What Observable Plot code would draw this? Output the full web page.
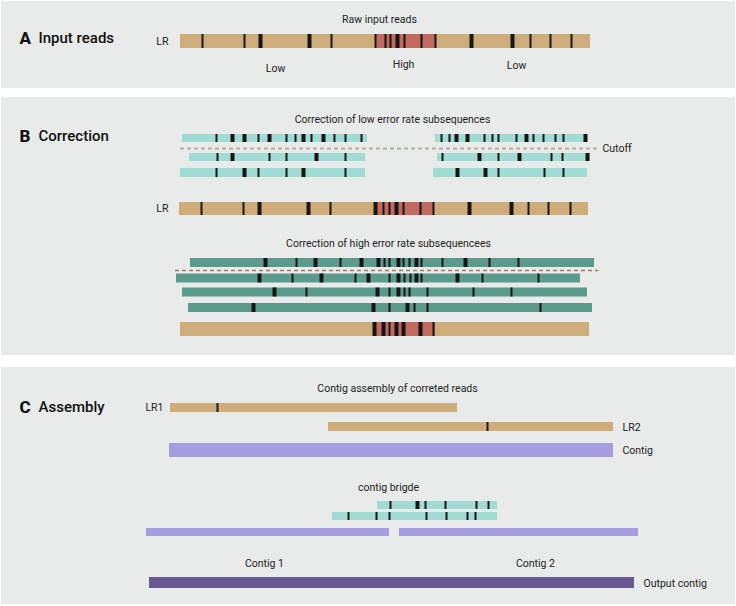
<!DOCTYPE html>
<html><head><meta charset="utf-8">
<script src="https://cdn.jsdelivr.net/npm/d3@7"></script>
<script src="https://cdn.jsdelivr.net/npm/@observablehq/plot@0.6"></script>
<style>body{margin:0;background:#fff}</style>
</head><body><div id="chart"></div>
<script>
// ---------- data: reads (positions along the sequence) and their error sites ----------
const reads = [
  {id:"A-LR", lane:"aLR", kind:"raw", start:180, end:590, thin:[202,244,331,375,385,390,404,421,435,530,550,571], thick:[260,309,397,471,512]},
  {id:"low-L1", lane:"b1", kind:"low", start:182, end:367, thin:[216,258,286,295,311,334,345,361], thick:[232,244,269,303,323]},
  {id:"low-L2", lane:"b2", kind:"low", start:189, end:365, thin:[217,269,286,345], thick:[232,316]},
  {id:"low-L3", lane:"b3", kind:"low", start:180, end:365, thin:[216,258,286,345], thick:[244,303]},
  {id:"low-R1", lane:"b1", kind:"low", start:435, end:587, thin:[441,449,484,492,498,516,533,543,555,563], thick:[456,467,526,585]},
  {id:"low-R2", lane:"b2", kind:"low", start:437, end:590, thin:[442,498,551,562], thick:[479,519,587]},
  {id:"low-R3", lane:"b3", kind:"low", start:433, end:587, thin:[498,544,563], thick:[457,485]},
  {id:"B-LR", lane:"bLR", kind:"raw", start:179, end:588, thin:[201,243,330,383,389,403,420,433,528,548,570], thick:[259,308,375,396,469,511]},
  {id:"high-1", lane:"t1", kind:"high", start:190, end:594, thin:[296,340,384,389,403,409,421,442,489,518], thick:[265,315,361,378,398,416,465]},
  {id:"high-2", lane:"t2", kind:"high", start:176, end:580, thin:[292,355,389,404,410,421,482,538], thick:[259,321,368,398,416,457]},
  {id:"high-3", lane:"t3", kind:"high", start:182, end:587, thin:[306,389,404,409,427,473,511], thick:[274,377,398]},
  {id:"high-4", lane:"t4", kind:"high", start:188, end:592, thin:[389,414,427,540], thick:[253,373,407]},
  {id:"B-out", lane:"bOut", kind:"raw", start:180, end:589, thin:[389,433], thick:[374,383,396,403,420]},
  {id:"LR1", lane:"c1", kind:"raw", start:170, end:457, thin:[217], thick:[]},
  {id:"LR2", lane:"c2", kind:"raw", start:328, end:613, thin:[487], thick:[]},
  {id:"Contig", lane:"c3", kind:"contig", start:169, end:613, thin:[], thick:[]},
  {id:"bridge-1", lane:"d1", kind:"low", start:377, end:497, thin:[390,425,445,476,488], thick:[417]},
  {id:"bridge-2", lane:"d2", kind:"low", start:332, end:497, thin:[348,376,389,426,446,467,475], thick:[]},
  {id:"Contig 1", lane:"d3", kind:"contig", start:146, end:389, thin:[], thick:[]},
  {id:"Contig 2", lane:"d3", kind:"contig", start:399, end:638, thin:[], thick:[]},
  {id:"Output contig", lane:"d4", kind:"output", start:149, end:634, thin:[], thick:[]}
];
// high error-rate regions of the long read
const highRegions = [
  {lane:"aLR", start:375, end:435},
  {lane:"bLR", start:375, end:433},
  {lane:"bOut", start:373, end:435}
];
// cutoff lines
const cutoffs = [
  {lane:"cutLow", start:180, end:598, kind:"low"},
  {lane:"cutHigh", start:175, end:598, kind:"high"}
];
// panels
const panels = [
  {letter:"A", name:"Input reads", top:1, bottom:88, titleY:38},
  {letter:"B", name:"Correction", top:97, bottom:355, titleY:136},
  {letter:"C", name:"Assembly", top:367, bottom:604, titleY:407}
];
// text labels
const labels = [
  {text:"Raw input reads", x:379, y:19, anchor:"middle"},
  {text:"LR", x:168, y:41, anchor:"end"},
  {text:"Low", x:275, y:68, anchor:"middle"},
  {text:"High", x:403, y:64, anchor:"middle"},
  {text:"Low", x:516, y:65, anchor:"middle"},
  {text:"Correction of low error rate subsequences", x:392, y:119, anchor:"middle"},
  {text:"Cutoff", x:602, y:148, anchor:"start"},
  {text:"LR", x:168, y:208, anchor:"end"},
  {text:"Correction of high error rate subsequencees", x:388, y:243, anchor:"middle"},
  {text:"Contig assembly of correted reads", x:397, y:388, anchor:"middle"},
  {text:"LR1", x:163, y:407, anchor:"end"},
  {text:"LR2", x:622, y:427, anchor:"start"},
  {text:"Contig", x:622, y:450, anchor:"start"},
  {text:"contig brigde", x:388, y:487, anchor:"middle"},
  {text:"Contig 1", x:264, y:563, anchor:"middle"},
  {text:"Contig 2", x:535, y:563, anchor:"middle"},
  {text:"Output contig", x:643, y:583, anchor:"start"}
];

// ---------- layout ----------
const laneY = {aLR:[41,14], b1:[138,8], b2:[157,8], b3:[172.5,9], cutLow:[148,0], bLR:[208.5,13],
  t1:[262.5,9], cutHigh:[270,0], t2:[278,9], t3:[292,9], t4:[307.5,9], bOut:[329,14],
  c1:[407.5,9], c2:[426.5,9], c3:[450,14], d1:[505,8], d2:[516,8], d3:[532,8], d4:[582.5,11]};
const fills = {raw:"#cead7b", low:"#a0dcd3", high:"#5b9b8b", contig:"#a69ce0", output:"#6a5895"};
const laneTop = d => laneY[d.lane][0] - laneY[d.lane][1]/2;
const laneBot = d => laneY[d.lane][0] + laneY[d.lane][1]/2;

const errs = reads.flatMap(r => [
  ...r.thin.map(p => ({p, lane:r.lane, heavy:false})),
  ...r.thick.map(p => ({p, lane:r.lane, heavy:true}))
]);

const labelMarks = ["start", "middle", "end"].map(a =>
  Plot.text(labels.filter(d => d.anchor === a),
    {x:"x", y:"y", text:"text", textAnchor:a, fontSize:10.5, fill:"#222"}));

const chart = Plot.plot({
  width: 736, height: 606,
  margin: 0,
  x: {domain:[0,736], range:[0,736], axis:null},
  y: {domain:[0,606], range:[0,606], axis:null},
  style: {fontFamily:"Roboto, 'Noto Sans', sans-serif", background:"#ffffff", color:"#222"},
  marks: [
    Plot.rect(panels, {x1:1, x2:735, y1:"top", y2:"bottom", fill:"#e8ebea"}),
    Plot.rect(reads, {x1:"start", x2:"end", y1:laneTop, y2:laneBot, fill:d => fills[d.kind]}),
    Plot.rect(highRegions, {x1:"start", x2:"end", y1:laneTop, y2:laneBot, fill:"#c4695f"}),
    Plot.ruleX(errs, {x:"p", y1:laneTop, y2:laneBot, stroke:"#161616", strokeWidth:d => d.heavy ? 4 : 2}),
    Plot.ruleY(cutoffs, {y:d => laneY[d.lane][0], x1:"start", x2:"end",
      stroke:d => d.kind === "low" ? "#b8ad97" : "#a87c55",
      strokeWidth:d => d.kind === "low" ? 2 : 1.4, strokeDasharray:"4,3"}),
    Plot.text(panels, {x:19, y:"titleY", text:"letter", textAnchor:"start", fontSize:17, fontWeight:800, fill:"#111"}),
    Plot.text(panels, {x:38, y:"titleY", text:"name", textAnchor:"start", fontSize:15, fontWeight:500, fill:"#111"}),
    ...labelMarks
  ]
});
document.getElementById("chart").appendChild(chart);
</script>
</body></html>
